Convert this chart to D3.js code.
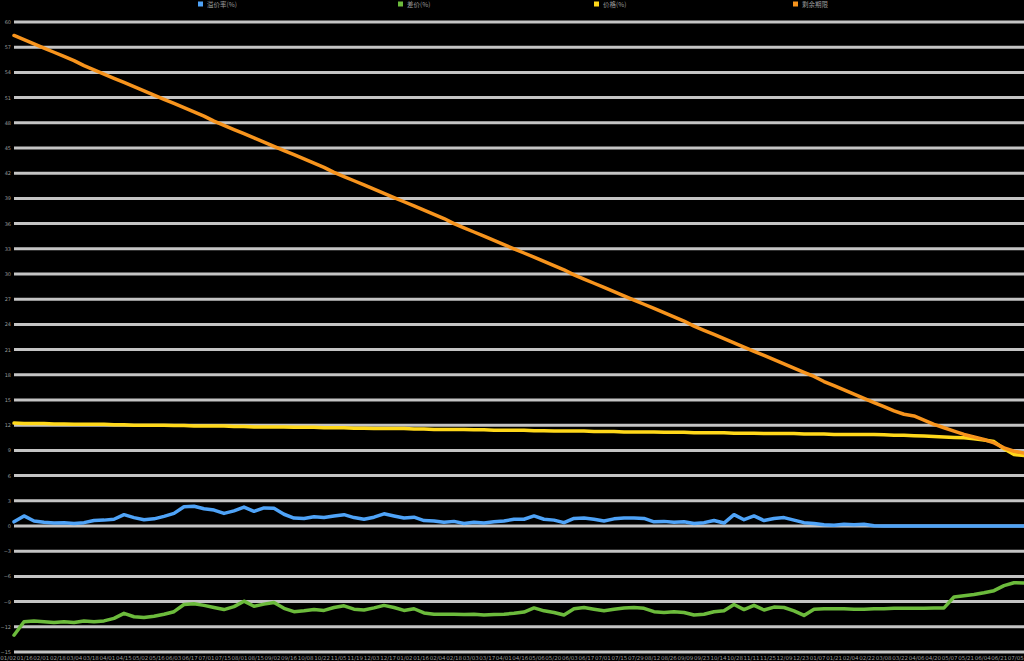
<!DOCTYPE html>
<html>
<head>
<meta charset="utf-8">
<script src="https://cdn.jsdelivr.net/npm/d3@7"></script>
<style>
html,body{margin:0;padding:0;background:#000;overflow:hidden;}
svg{display:block;}
</style>
</head>
<body>
<svg id="chart" width="1024" height="661"></svg>
<script>
const seriesNames = ["溢价率(%)", "差价(%)", "价格(%)", "剩余期限"];
const seriesColors = ["#4fa3f7", "#6cbb3c", "#ffd81a", "#f7941d"];

const yTicks = [-15,-12,-9,-6,-3,0,3,6,9,12,15,18,21,24,27,30,33,36,39,42,45,48,51,54,57,60];

const xLabels = ["01/02","01/16","02/01","02/18","03/04","03/18","04/01","04/15","05/02","05/16","06/03","06/17","07/01","07/15","08/01","08/15","09/02","09/16","10/08","10/22","11/05","11/19","12/03","12/17","01/02","01/16","02/04","02/18","03/03","03/17","04/01","04/16","05/06","05/20","06/03","06/17","07/01","07/15","07/29","08/12","08/26","09/09","09/23","10/14","10/28","11/11","11/25","12/09","12/23","01/07","01/21","02/04","02/22","03/08","03/22","04/06","04/20","05/07","05/21","06/04","06/21","07/05"];

const blue = [0.5,1.2,0.6,0.45,0.35,0.4,0.3,0.4,0.65,0.7,
0.8,1.35,1.0,0.75,0.85,1.15,1.5,2.3,2.35,2.05,
1.9,1.5,1.8,2.25,1.75,2.15,2.1,1.4,0.95,0.9,
1.1,1.0,1.2,1.35,1.0,0.8,1.05,1.45,1.2,0.95,
1.05,0.65,0.6,0.45,0.55,0.3,0.45,0.35,0.5,0.6,
0.8,0.8,1.2,0.8,0.7,0.4,0.9,0.95,0.8,0.6,
0.85,0.95,0.95,0.9,0.5,0.55,0.45,0.5,0.3,0.4,
0.65,0.35,1.35,0.75,1.2,0.65,0.9,1.0,0.7,0.4,
0.3,0.15,0.1,0.2,0.15,0.2,0.02,0.0,0.0,0.0,
0.0,0.0,0.0,0.0,0.0,0.0,0.0,0.0,0.0,0.0,
0.0,0.0];

const green = [-13.0,-11.4,-11.3,-11.4,-11.5,-11.4,-11.5,-11.3,-11.4,-11.3,
-11.0,-10.4,-10.8,-10.9,-10.75,-10.5,-10.2,-9.35,-9.25,-9.45,
-9.7,-9.95,-9.6,-8.95,-9.55,-9.3,-9.1,-9.8,-10.2,-10.1,
-9.95,-10.05,-9.7,-9.5,-9.9,-10.0,-9.75,-9.45,-9.7,-10.05,
-9.85,-10.35,-10.5,-10.5,-10.5,-10.55,-10.5,-10.6,-10.55,-10.5,
-10.4,-10.25,-9.75,-10.1,-10.3,-10.6,-9.85,-9.7,-9.9,-10.1,
-9.9,-9.75,-9.7,-9.8,-10.2,-10.3,-10.2,-10.3,-10.6,-10.5,
-10.2,-10.1,-9.35,-9.95,-9.45,-10.0,-9.65,-9.7,-10.1,-10.65,
-9.9,-9.85,-9.85,-9.85,-9.9,-9.9,-9.85,-9.85,-9.8,-9.8,
-9.8,-9.8,-9.75,-9.75,-8.45,-8.3,-8.15,-7.95,-7.7,-7.1,
-6.75,-6.8];

const yellow = [12.25,12.2,12.2,12.2,12.15,12.15,12.1,12.1,12.1,12.1,
12.05,12.05,12.0,12.0,12.0,12.0,11.95,11.95,11.9,11.9,
11.9,11.9,11.85,11.85,11.8,11.8,11.8,11.8,11.75,11.75,
11.75,11.7,11.7,11.7,11.65,11.65,11.6,11.6,11.6,11.6,
11.55,11.55,11.5,11.5,11.5,11.5,11.45,11.45,11.4,11.4,
11.4,11.4,11.35,11.35,11.3,11.3,11.3,11.3,11.25,11.25,
11.25,11.2,11.2,11.2,11.2,11.15,11.15,11.15,11.1,11.1,
11.1,11.1,11.05,11.05,11.05,11.0,11.0,11.0,11.0,10.95,
10.95,10.95,10.9,10.9,10.9,10.9,10.9,10.85,10.8,10.8,
10.75,10.7,10.65,10.6,10.55,10.5,10.4,10.25,10.05,9.2,
8.5,8.4];

const orange = [58.4,57.9,57.4,56.9,56.4,55.9,55.4,54.8,54.3,53.8,
53.3,52.8,52.3,51.8,51.3,50.8,50.3,49.8,49.3,48.8,
48.2,47.7,47.2,46.7,46.2,45.7,45.2,44.7,44.2,43.7,
43.2,42.7,42.1,41.6,41.1,40.6,40.1,39.6,39.1,38.6,
38.1,37.6,37.1,36.6,36.0,35.5,35.0,34.5,34.0,33.5,
33.0,32.5,32.0,31.5,31.0,30.5,29.9,29.4,28.9,28.4,
27.9,27.4,26.9,26.4,25.9,25.4,24.9,24.4,23.8,23.3,
22.8,22.3,21.8,21.3,20.8,20.3,19.8,19.3,18.8,18.3,
17.8,17.2,16.7,16.2,15.7,15.2,14.7,14.2,13.7,13.3,
13.1,12.6,12.1,11.7,11.3,10.9,10.6,10.3,9.9,9.3,
8.9,8.7];

const svg = d3.select("#chart");
const W = 1024, H = 661;

const x = d3.scaleLinear().domain([0, blue.length - 1]).range([14, 1024]);
const y = d3.scaleLinear().domain([-15, 60]).range([652, 22]);

// gridlines
svg.append("g").selectAll("line").data(yTicks).join("line")
  .attr("x1", 14).attr("x2", W)
  .attr("y1", d => y(d)).attr("y2", d => y(d))
  .attr("stroke", "#c4c4c4").attr("stroke-width", 3);

// y axis labels
const yAxis = d3.axisLeft(y).tickValues(yTicks).tickSize(0).tickPadding(0);
const gy = svg.append("g").attr("transform", "translate(11,0)").call(yAxis);
gy.select(".domain").remove();
gy.selectAll("text").attr("fill", "#9a9a9a").attr("dy", "0.3em")
  .style("font-family", "DejaVu Sans, sans-serif").style("font-size", "5px");

// x axis labels
const xb = d3.scaleBand().domain(d3.range(xLabels.length)).range([0, W]);
const xAxis = d3.axisBottom(xb).tickFormat(i => xLabels[i]).tickSize(0).tickPadding(0);
const gx = svg.append("g").attr("transform", "translate(0,656)").call(xAxis);
gx.select(".domain").remove();
gx.selectAll("text").attr("fill", "#9a9a9a").attr("dy", "0.7em")
  .style("font-family", "DejaVu Sans, sans-serif").style("font-size", "5.5px");

// lines
const line = d3.line().x((d, i) => x(i)).y(d => y(d));
const allSeries = [blue, green, yellow, orange];
svg.append("g").selectAll("path").data(allSeries).join("path")
  .attr("d", d => line(d))
  .attr("fill", "none")
  .attr("stroke", (d, i) => seriesColors[i])
  .attr("stroke-width", 3.5)
  .attr("stroke-linejoin", "round")
  .attr("stroke-linecap", "round");

// legend
const legendX = [198, 398, 594, 793];
const lg = svg.append("g").selectAll("g").data(seriesNames).join("g")
  .attr("transform", (d, i) => `translate(${legendX[i]},0)`);
lg.append("rect").attr("x", 0).attr("y", 1.5).attr("width", 5).attr("height", 5)
  .attr("fill", (d, i) => seriesColors[i]);
lg.append("text").attr("x", 9).attr("y", 6.5).text(d => d)
  .attr("fill", "#9a9a9a")
  .style("font-family", "Noto Sans CJK SC, sans-serif").style("font-size", "6.5px");
</script>
</body>
</html>
